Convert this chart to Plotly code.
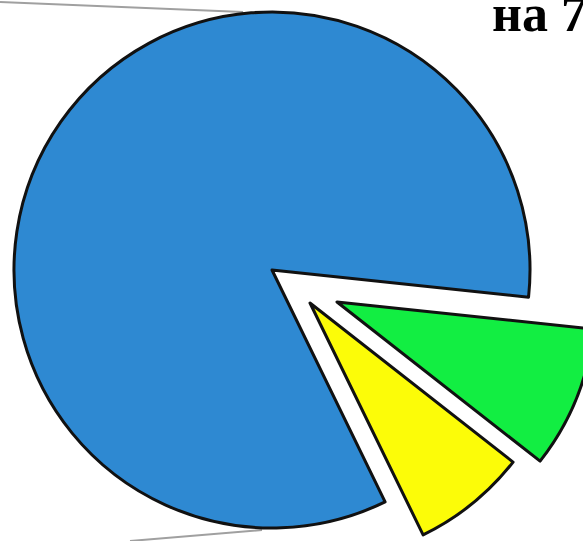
import plotly.graph_objects as go

# Data
categories = ["Категория 1", "Категория 2", "Категория 3"]
values = [83.9, 8.9, 7.2]
colors = ["#2E89D2", "#12EE42", "#FCFC08"]
title_text = "на 7"

# Figure geometry (screen px)
W, H = 600, 570
R = 258
centers = [(272, 270), (337, 302), (310, 303)]  # blue, green (exploded), yellow (exploded)


def px(x):
    return x / W


def py(y):
    return 1 - y / H


fig = go.Figure()

for i, (cx, cy) in enumerate(centers):
    cols = [colors[j] if j == i else "rgba(0,0,0,0)" for j in range(3)]
    lw = [3 if j == i else 0 for j in range(3)]
    fig.add_trace(go.Pie(
        labels=categories,
        values=values,
        sort=False,
        direction="clockwise",
        rotation=154,
        marker=dict(colors=cols, line=dict(color="#111111", width=lw)),
        textinfo="none",
        hoverinfo="label+value",
        showlegend=False,
        domain=dict(x=[px(cx - R), px(cx + R)], y=[py(cy + R), py(cy - R)]),
    ))

# thin grey decorative lines
fig.add_shape(type="line", xref="paper", yref="paper",
              x0=px(0), y0=py(2), x1=px(243), y1=py(12),
              line=dict(color="#A0A0A0", width=2), layer="below")
fig.add_shape(type="line", xref="paper", yref="paper",
              x0=px(130), y0=py(541), x1=px(262), y1=py(530),
              line=dict(color="#A0A0A0", width=2), layer="below")

fig.add_annotation(text=f"<b>{title_text}</b>", xref="paper", yref="paper",
                   x=px(490), y=py(14), xanchor="left", yanchor="middle",
                   showarrow=False,
                   font=dict(family="Liberation Serif", size=52, color="black"))

fig.update_layout(width=W, height=H, margin=dict(l=0, r=0, t=0, b=0),
                  paper_bgcolor="white", plot_bgcolor="white")

fig.write_html("out.html", config={"displayModeBar": False},
               post_script="document.body.style.margin='0';")
